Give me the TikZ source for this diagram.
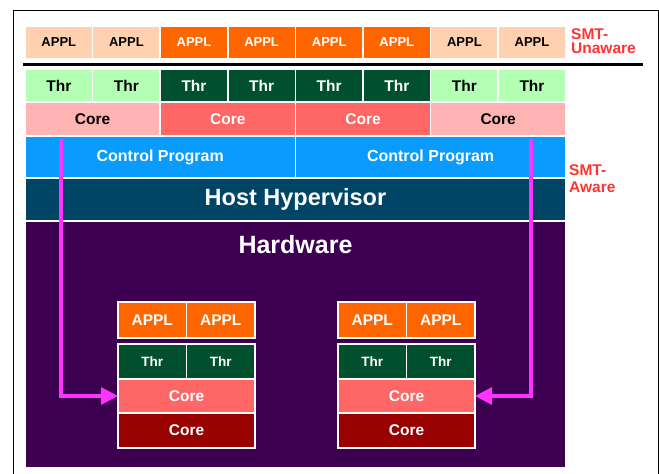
\documentclass[tikz,border=0pt]{standalone}
\usepackage{fontspec}
\setmainfont{Liberation Sans}
\usetikzlibrary{positioning, arrows.meta}
\definecolor{peach}{HTML}{FFD1B0}
\definecolor{orng}{HTML}{FF6600}
\definecolor{mint}{HTML}{B3FFB3}
\definecolor{forest}{HTML}{00502D}
\definecolor{blush}{HTML}{FFB3B3}
\definecolor{salmon}{HTML}{FF6666}
\definecolor{sky}{HTML}{0A9BFF}
\definecolor{hypblue}{HTML}{004466}
\definecolor{hwpurple}{HTML}{3D0050}
\definecolor{maroon}{HTML}{990000}
\definecolor{pinkarrow}{HTML}{FF33FF}
\definecolor{smtred}{HTML}{FF3333}

\begin{document}
\begin{tikzpicture}[x=1pt, y=-1pt,
  box/.style={draw=white, line width=1.5pt, inner sep=0pt, outer sep=0pt, align=center},
  appllt/.style={box, fill=peach, text=black, minimum width=67.6pt, minimum height=33pt, font=\bfseries\fontsize{13}{15}\selectfont},
  appldk/.style={appllt, fill=orng, text=white},
  thrlt/.style={box, fill=mint, text=black, minimum width=67.6pt, minimum height=33pt, font=\bfseries\fontsize{15.5}{17}\selectfont},
  thrdk/.style={thrlt, fill=forest, text=white},
  corelt/.style={box, fill=blush, text=black, minimum width=135.2pt, minimum height=34pt, font=\bfseries\fontsize{15.5}{17}\selectfont},
  coredk/.style={corelt, fill=salmon, text=white},
  ctlprog/.style={box, fill=sky, text=white, minimum width=270.4pt, minimum height=42pt, font=\bfseries\fontsize{16}{18}\selectfont},
  inappl/.style={box, fill=orng, text=white, minimum width=68.5pt, minimum height=36pt, font=\bfseries\fontsize{15.5}{17}\selectfont},
  inthr/.style={box, fill=forest, text=white, minimum width=68.5pt, minimum height=35pt, font=\bfseries\fontsize{13.5}{15}\selectfont},
  incore/.style={box, fill=salmon, text=white, minimum width=137pt, minimum height=34pt, font=\bfseries\fontsize{15.5}{17}\selectfont},
  inbase/.style={incore, fill=maroon, minimum height=35pt},
  smt/.style={text=smtred, align=left, inner sep=0pt, anchor=north west},
  migrate/.style={draw=pinkarrow, line width=3.2pt, -{Triangle[length=17pt, width=17pt]}}]

  \useasboundingbox (0,0) rectangle (659,474);

  % outer frame
  \draw[line width=1pt] (13,480) -- (13,10) -- (658,10) -- (658,480);

  % SMT-unaware applications
  \foreach \i/\st in {1/appllt, 2/appllt, 3/appldk, 4/appldk, 5/appldk, 6/appldk, 7/appllt, 8/appllt} {
    \node[\st] (a\i) at ({25+67.6*(\i-0.5)},42.5) {APPL};
  }
  \draw[line width=3pt] (23,64) -- (643,64);

  % threads and cores
  \foreach \i/\st in {1/thrlt, 2/thrlt, 3/thrdk, 4/thrdk, 5/thrdk, 6/thrdk, 7/thrlt, 8/thrlt} {
    \node[\st] (t\i) at ({25+67.6*(\i-0.5)},85.5) {Thr};
  }
  \foreach \i/\st in {1/corelt, 2/coredk, 3/coredk, 4/corelt} {
    \node[\st] (c\i) at ({25+135.2*(\i-0.5)},119) {Core};
  }

  % control programs, hypervisor, hardware
  \node[ctlprog] (cp1) at (160.2,157) {Control Program};
  \node[ctlprog] (cp2) at (430.6,157) {Control Program};
  \node[box, fill=hypblue, text=white, minimum width=541pt, minimum height=43pt,
        font=\bfseries\fontsize{23.5}{26}\selectfont] (hyp) at (295.5,199.5) {Host Hypervisor};
  \node[box, fill=hwpurple, minimum width=541pt, minimum height=247pt] (hw) at (295.5,344.5) {};
  \node[text=white, font=\bfseries\fontsize{25}{28}\selectfont] (hwlbl) at (295.5,245) {Hardware};

  % physical cores, left
  \node[inappl] (la1) at (152.25,320) {APPL};
  \node[inappl] (la2) at (220.75,320) {APPL};
  \node[inthr] (lt1) at (152.25,361.5) {Thr};
  \node[inthr] (lt2) at (220.75,361.5) {Thr};
  \node[incore] (lc1) at (186.5,396) {Core};
  \node[inbase] (lc2) at (186.5,430.5) {Core};

  % physical cores, right
  \node[inappl] (ra1) at (372.25,320) {APPL};
  \node[inappl] (ra2) at (440.75,320) {APPL};
  \node[inthr] (rt1) at (372.25,361.5) {Thr};
  \node[inthr] (rt2) at (440.75,361.5) {Thr};
  \node[incore] (rc1) at (406.5,396) {Core};
  \node[inbase] (rc2) at (406.5,430.5) {Core};

  % mapping arrows
  \coordinate (lsrc) at (61,139);
  \coordinate (rsrc) at (531,139);
  \draw[migrate] (lsrc) |- (lc1.west);
  \draw[migrate] (rsrc) |- (rc1.east);

  % side labels
  \node[smt, font=\bfseries\fontsize{15.5}{14.5}\selectfont] (unaware) at (571,28) {SMT-\\Unaware};
  \node[smt, font=\bfseries\fontsize{15.5}{17}\selectfont] (aware) at (569,164) {SMT-\\Aware};
\end{tikzpicture}
\end{document}
